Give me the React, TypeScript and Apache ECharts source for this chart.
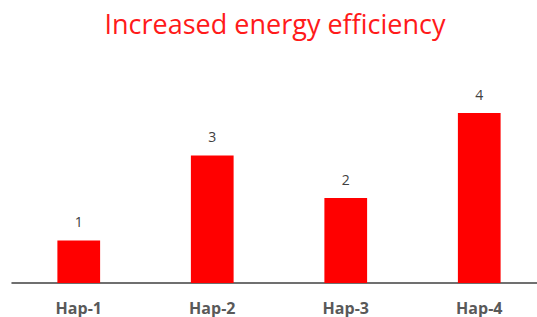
import React, { useEffect, useRef } from "react";
import * as echarts from "echarts";

const categories = ["Hap-1", "Hap-2", "Hap-3", "Hap-4"];
const values = [1, 3, 2, 4];
const titleText = "Increased energy efficiency";

export default function App() {
  const ref = useRef<HTMLDivElement>(null);
  useEffect(() => {
    if (!ref.current) return;
    const chart = echarts.init(ref.current, null, { renderer: "svg" });
    chart.setOption({
      animation: false,
      title: {
        text: titleText,
        left: 270,
        textAlign: "center",
        top: 5,
        textStyle: {
          color: "#ff1a1a",
          fontFamily: "Open Sans",
          fontWeight: "normal",
          fontSize: 27,
        },
      },
      grid: { left: 12, width: 534, top: 70.5, bottom: 34, containLabel: false },
      xAxis: {
        type: "category",
        data: categories,
        axisLine: { lineStyle: { color: "#404040", width: 1.5 } },
        axisTick: { show: false },
        axisLabel: {
          color: "#595959",
          fontFamily: "Open Sans",
          fontWeight: "bold",
          fontSize: 16,
          lineHeight: 16,
          margin: 17,
        },
      },
      yAxis: { type: "value", min: 0, max: 5, show: false, splitLine: { show: false } },
      series: [
        {
          type: "bar",
          data: values,
          barWidth: "32%",
          itemStyle: { color: "#ff0000" },
          label: {
            show: true,
            position: "top",
            distance: 12,
            color: "#404040",
            fontFamily: "Open Sans",
            fontSize: 14,
          },
        },
      ],
    });
    return () => chart.dispose();
  }, []);
  return (
    <div style={{ position: "absolute", left: 0, top: 0, width: 537, height: 317, overflow: "hidden", background: "#fff" }}>
      <div ref={ref} style={{ width: 560, height: 317 }} />
    </div>
  );
}
